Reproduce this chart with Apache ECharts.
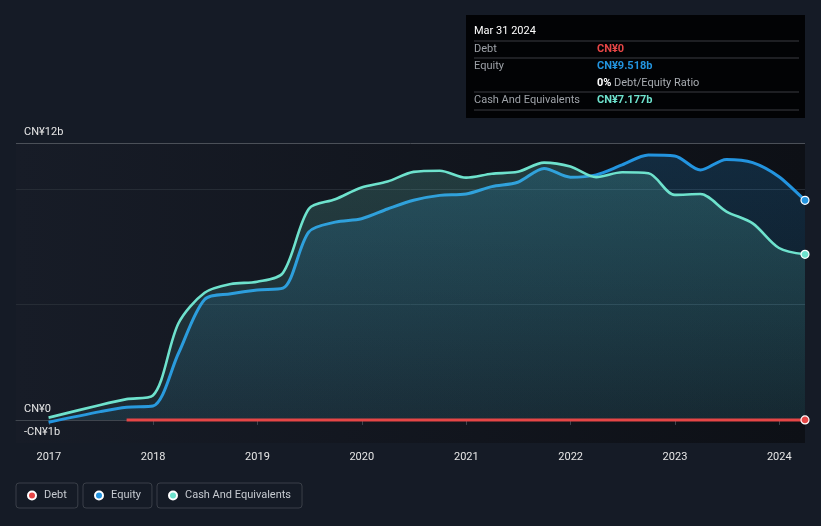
<!DOCTYPE html>
<html>
<head>
<meta charset="utf-8">
<script src="https://cdn.jsdelivr.net/npm/echarts@6/dist/echarts.min.js"></script>
<style>
html,body{margin:0;padding:0;background:#151b26;}
#chart{width:821px;height:526px;}
</style>
</head>
<body>
<div id="chart"></div>
<script>
// ---- data (CN¥ billions) ----
const dates = ['2016-12-31','2017-06-30','2017-09-30','2017-12-31',
  '2018-03-31','2018-06-30','2018-09-30','2018-12-31',
  '2019-03-31','2019-06-30','2019-09-30','2019-12-31',
  '2020-03-31','2020-06-30','2020-09-30','2020-12-31',
  '2021-03-31','2021-06-30','2021-09-30','2021-12-31',
  '2022-03-31','2022-06-30','2022-09-30','2022-12-31',
  '2023-03-31','2023-06-30','2023-09-30','2023-12-31','2024-03-31'];
const equity = [-0.10,0.36,0.55,0.60,
  2.90,5.22,5.47,5.63,
  5.71,8.15,8.57,8.72,
  9.14,9.52,9.73,9.79,
  10.11,10.30,10.90,10.52,
  10.62,11.05,11.48,11.44,
  10.83,11.29,11.15,10.54,9.518];
const cash = [0.10,0.65,0.90,1.06,
  4.20,5.51,5.89,5.99,
  6.37,9.15,9.56,10.07,
  10.33,10.75,10.80,10.50,
  10.67,10.75,11.15,10.98,
  10.52,10.73,10.69,9.75,
  9.79,9.03,8.52,7.45,7.177];
const debtDates = dates.slice(2);
const debt = debtDates.map(() => 0);
const yTickValues = [-1, 0, 12];
const yTickLabels = ['-CN¥1b', 'CN¥0', 'CN¥12b'];
const tipTitle = 'Mar 31 2024';
const tipRatio = '0%';

const FONT = 'Roboto';
const C_DEBT = '#e64646', C_EQ = '#2394df', C_CASH = '#6ee2cd';

function pairs(ds, vs){ return ds.map((d,i)=>[d, vs[i]]); }
function lastOnly(n){ return (v, p) => p.dataIndex === n-1 ? 8 : 0; }
function grad(rgb, a1, a2){
  return new echarts.graphic.LinearGradient(0,0,0,1,[
    {offset:0,color:`rgba(${rgb},${a1})`},{offset:1,color:`rgba(${rgb},${a2})`}]);
}

// y split lines: ticks -1..12
const splitColors = [];
for (let v=-1; v<=12; v++){
  if (v===0) splitColors.push('#ffffff');
  else if (v===12) splitColors.push('#4b5058');
  else if (v===5 || v===10) splitColors.push('#262c35');
  else splitColors.push('rgba(0,0,0,0)');
}

const chart = echarts.init(document.getElementById('chart'));
const tipX = 466, tipY = 15, tipW = 339, tipH = 103;
const rowL = 474, rowV = 597, lineR = 799;
function sep(y){ return {type:'line', shape:{x1:rowL,y1:y,x2:lineR,y2:y}, style:{stroke:'#3a3d42',lineWidth:1}}; }
function txt(x,y,t,c,w){ return {type:'text', x:x, y:y, style:{text:t, fill:c, font:(w||'normal')+' 11px '+FONT, verticalAlign:'middle'}}; }
const fmt = v => 'CN¥' + (v===0 ? '0' : v.toFixed(3)+'b');

const legendBase = {
  top: 483, orient:'horizontal', icon:'circle', itemWidth:8, itemHeight:8,
  padding:[7,11,7,11], borderColor:'#3a3f48', borderWidth:1, borderRadius:3,
  textStyle:{color:'#c6cad0', fontSize:11, fontFamily:FONT, padding:[0,0,0,3]},
  selectedMode:false
};

chart.setOption({
  backgroundColor:'#151b26',
  animation:false,
  textStyle:{fontFamily:FONT},
  grid:{left:16, right:16, top:143, bottom:83, show:true, borderWidth:0,
    backgroundColor:new echarts.graphic.LinearGradient(0,0,1,0,[
      {offset:0,color:'#171c27'},{offset:1,color:'#0d1016'}])},
  xAxis:{type:'time', min:'2016-09-08', max:'2024-03-31',
    minInterval:365*86400000, maxInterval:366*86400000,
    axisLine:{show:true, lineStyle:{color:'#3f454e', width:1}},
    axisTick:{show:true, length:5, lineStyle:{color:'#3f454e'}},
    axisLabel:{formatter:'{yyyy}', color:'#e6e6e6', fontSize:11, margin:9,
      showMinLabel:false, showMaxLabel:false},
    splitLine:{show:false}},
  yAxis:{type:'value', min:-1, max:12, interval:1,
    axisLine:{show:false}, axisTick:{show:false},
    axisLabel:{inside:true, margin:8, color:'#e6e6e6', fontSize:11, verticalAlign:'bottom',
      padding:[0,0,5,0],
      formatter: v => { const i = yTickValues.indexOf(v); return i<0 ? '' : yTickLabels[i]; }},
    splitLine:{show:true, lineStyle:{color:splitColors, width:1}}},
  legend:[
    Object.assign({}, legendBase, {left:16, data:['Debt']}),
    Object.assign({}, legendBase, {left:83, data:['Equity']}),
    Object.assign({}, legendBase, {left:157, data:['Cash And Equivalents']})
  ],
  series:[
    {name:'Equity', type:'line', data:pairs(dates,equity), smooth:0.3,
     showSymbol:true, showAllSymbol:true, symbol:'circle', symbolSize:lastOnly(dates.length),
     lineStyle:{color:C_EQ, width:3}, itemStyle:{color:C_EQ, borderColor:'#ffffff', borderWidth:1.2},
     areaStyle:{color:grad('35,148,223',0.28,0.10)}, z:2},
    {name:'Cash And Equivalents', type:'line', data:pairs(dates,cash), smooth:0.3,
     showSymbol:true, showAllSymbol:true, symbol:'circle', symbolSize:lastOnly(dates.length),
     lineStyle:{color:C_CASH, width:2.6}, itemStyle:{color:C_CASH, borderColor:'#ffffff', borderWidth:1.2},
     areaStyle:{color:grad('108,224,204',0.28,0.10)}, z:3},
    {name:'Debt', type:'line', data:pairs(debtDates,debt),
     showSymbol:true, showAllSymbol:true, symbol:'circle', symbolSize:lastOnly(debtDates.length),
     lineStyle:{color:C_DEBT, width:3}, itemStyle:{color:C_DEBT, borderColor:'#ffffff', borderWidth:1.2}, z:4}
  ],
  graphic:[{type:'group', children:[
    {type:'rect', shape:{x:tipX,y:tipY,width:tipW,height:tipH}, style:{fill:'#020305'}},
    {type:'text', x:rowL, y:31, style:{text:tipTitle, fill:'#ffffff', font:'normal 11px '+FONT, verticalAlign:'middle'}},
    sep(41),
    txt(rowL,49.5,'Debt','#9ea2a8'), txt(rowV,49.5,fmt(debt[debt.length-1]),C_DEBT,'bold'),
    sep(58),
    txt(rowL,66,'Equity','#9ea2a8'), txt(rowV,66,fmt(equity[equity.length-1]),C_EQ,'bold'),
    txt(rowV,83,tipRatio,'#ffffff','bold'), txt(rowV+17,83,'Debt/Equity Ratio','#a9adb2'),
    sep(92),
    txt(rowL,100.5,'Cash And Equivalents','#9ea2a8'), txt(rowV,100.5,fmt(cash[cash.length-1]),C_CASH,'bold'),
    sep(110)
  ]}]
});
</script>
</body>
</html>
